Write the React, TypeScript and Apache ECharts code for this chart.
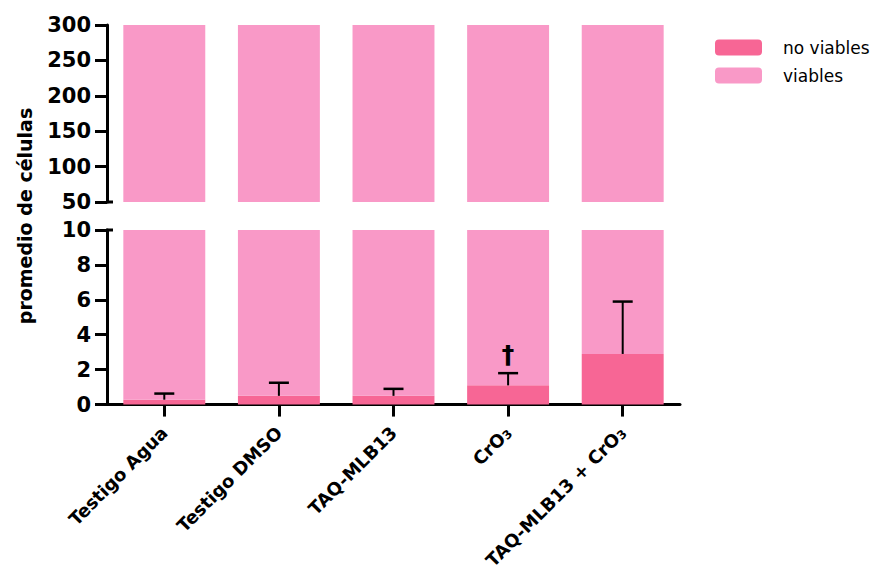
import React, { useEffect, useRef } from "react";
import * as echarts from "echarts";

// Treatments along the x axis
const categories = ["Testigo Agua", "Testigo DMSO", "TAQ-MLB13", "CrO3", "TAQ-MLB13 + CrO3"];
// Mean number of non-viable cells and its standard deviation
const noViablesMean = [0.28, 0.5, 0.5, 1.1, 2.9];
const noViablesSD = [0.35, 0.75, 0.4, 0.7, 3.0];
// Mean number of viable cells (stacked on top of the non-viable ones)
const viablesMean = [412, 398, 405, 376, 354];
// Significance marks drawn above the error bars
const marks = ["", "", "", "†", ""];

// Broken value axis: upper and lower segments
const upperRange = { min: 50, max: 300, interval: 50 };
const lowerRange = { min: 0, max: 10, interval: 2 };

const FONT = "DejaVu Sans";
const LIGHT = "#F999C7";
const DARK = "#F76695";
const GRID_LEFT = 107;
const GRID_RIGHT = 198;
const XLABEL_SIZE = 18;

export default function App() {
  const ref = useRef<HTMLDivElement>(null);

  useEffect(() => {
    if (!ref.current) return;
    const chart = echarts.init(ref.current, undefined, { renderer: "svg" });

    const yLabel = {
      fontFamily: FONT,
      fontWeight: "bold" as const,
      fontSize: 21,
      color: "#000",
      margin: 16,
    };
    const axisLine = { show: true, lineStyle: { color: "#000", width: 3 } };
    const axisTick = { show: true, length: 12, lineStyle: { color: "#000", width: 3 } };

    const errorData = categories.map((_, i) => [i, noViablesMean[i], noViablesSD[i]]);

    chart.setOption({
      animation: false,
      legend: {
        orient: "vertical",
        left: 715,
        top: 39,
        padding: 0,
        itemWidth: 47,
        itemHeight: 16,
        itemGap: 11,
        icon: "roundRect",
        selectedMode: false,
        data: ["no viables", "viables"],
        textStyle: { fontFamily: FONT, fontSize: 17, color: "#000", padding: [0, 0, 0, 16] },
      },
      grid: [
        { left: GRID_LEFT, right: GRID_RIGHT, top: 25, height: 177 },
        { left: GRID_LEFT, right: GRID_RIGHT, top: 230, height: 176 },
      ],
      xAxis: [
        { type: "category", data: categories, gridIndex: 0, show: false },
        {
          type: "category",
          data: categories,
          gridIndex: 1,
          axisLine,
          axisTick: { ...axisTick, alignWithLabel: true },
          axisLabel: {
            interval: 0,
            rotate: 45,
            margin: 25,
            fontFamily: FONT,
            fontWeight: "bold",
            fontSize: XLABEL_SIZE,
            color: "#000",
            formatter: (v: string) =>
              v.indexOf("CrO3") >= 0
                ? v.replace("CrO3", "{b|CrO}{sub|3}").replace(/^([^{]+)\{/, "{b|$1}{")
                : v,
            rich: {
              b: { fontFamily: FONT, fontWeight: "bold", fontSize: XLABEL_SIZE, color: "#000" },
              sub: {
                fontFamily: FONT,
                fontWeight: "bold",
                fontSize: 12,
                color: "#000",
                lineHeight: 12,
                verticalAlign: "bottom",
              },
            },
          },
        },
      ],
      yAxis: [
        {
          type: "value",
          gridIndex: 0,
          ...upperRange,
          axisLine,
          axisTick,
          splitLine: { show: false },
          axisLabel: yLabel,
        },
        {
          type: "value",
          gridIndex: 1,
          ...lowerRange,
          axisLine,
          axisTick,
          splitLine: { show: false },
          axisLabel: yLabel,
        },
      ],
      series: [
        {
          name: "no viables",
          type: "bar",
          stack: "top",
          xAxisIndex: 0,
          yAxisIndex: 0,
          barWidth: "71.5%",
          itemStyle: { color: DARK },
          data: noViablesMean,
        },
        {
          name: "viables",
          type: "bar",
          stack: "top",
          xAxisIndex: 0,
          yAxisIndex: 0,
          barWidth: "71.5%",
          itemStyle: { color: LIGHT },
          data: viablesMean,
        },
        {
          name: "no viables",
          type: "bar",
          stack: "bottom",
          xAxisIndex: 1,
          yAxisIndex: 1,
          barWidth: "71.5%",
          itemStyle: { color: DARK },
          data: noViablesMean,
        },
        {
          name: "viables",
          type: "bar",
          stack: "bottom",
          xAxisIndex: 1,
          yAxisIndex: 1,
          barWidth: "71.5%",
          itemStyle: { color: LIGHT },
          data: viablesMean,
        },
        {
          name: "error",
          type: "custom",
          xAxisIndex: 1,
          yAxisIndex: 1,
          z: 10,
          clip: false,
          encode: { x: 0, y: 1 },
          data: errorData,
          renderItem: (params: any, api: any) => {
            const idx = api.value(0);
            const mean = api.value(1);
            const sd = api.value(2);
            const base = api.coord([idx, mean]);
            const top = api.coord([idx, mean + sd]);
            const half = 10;
            const children: any[] = [
              {
                type: "line",
                shape: { x1: base[0], y1: base[1], x2: top[0], y2: top[1] },
                style: { stroke: "#000", lineWidth: 2 },
              },
              {
                type: "line",
                shape: { x1: top[0] - half, y1: top[1], x2: top[0] + half, y2: top[1] },
                style: { stroke: "#000", lineWidth: 2.5 },
              },
            ];
            const mark = marks[params.dataIndex];
            if (mark) {
              children.push({
                type: "text",
                x: top[0],
                y: top[1] - 6,
                style: {
                  text: mark,
                  fontFamily: FONT,
                  fontWeight: "bold",
                  fontSize: 25,
                  fill: "#000",
                  align: "center",
                  verticalAlign: "bottom",
                },
              });
            }
            return { type: "group", children };
          },
        },
      ],
    });

    // Break markers at the ends of the two axis segments
    const yBreakUpper = chart.convertToPixel({ yAxisIndex: 0 }, upperRange.min) as number;
    const yBreakLower = chart.convertToPixel({ yAxisIndex: 1 }, lowerRange.max) as number;
    chart.setOption({
      graphic: [
        {
          type: "line",
          shape: { x1: GRID_LEFT - 1, y1: yBreakUpper, x2: GRID_LEFT + 6, y2: yBreakUpper },
          style: { stroke: "#000", lineWidth: 3 },
          z: 20,
        },
        {
          type: "line",
          shape: { x1: GRID_LEFT - 1, y1: yBreakLower, x2: GRID_LEFT + 6, y2: yBreakLower },
          style: { stroke: "#000", lineWidth: 3 },
          z: 20,
        },
        {
          type: "text",
          x: 25,
          y: 216,
          rotation: Math.PI / 2,
          style: {
            text: "promedio de células",
            fontFamily: FONT,
            fontWeight: "bold",
            fontSize: 19,
            fill: "#000",
            align: "center",
            verticalAlign: "middle",
          },
        },
      ],
    });

    return () => chart.dispose();
  }, []);

  return (
    <div
      ref={ref}
      style={{ position: "fixed", left: 0, top: 0, width: 878, height: 572, background: "#fff" }}
    />
  );
}
